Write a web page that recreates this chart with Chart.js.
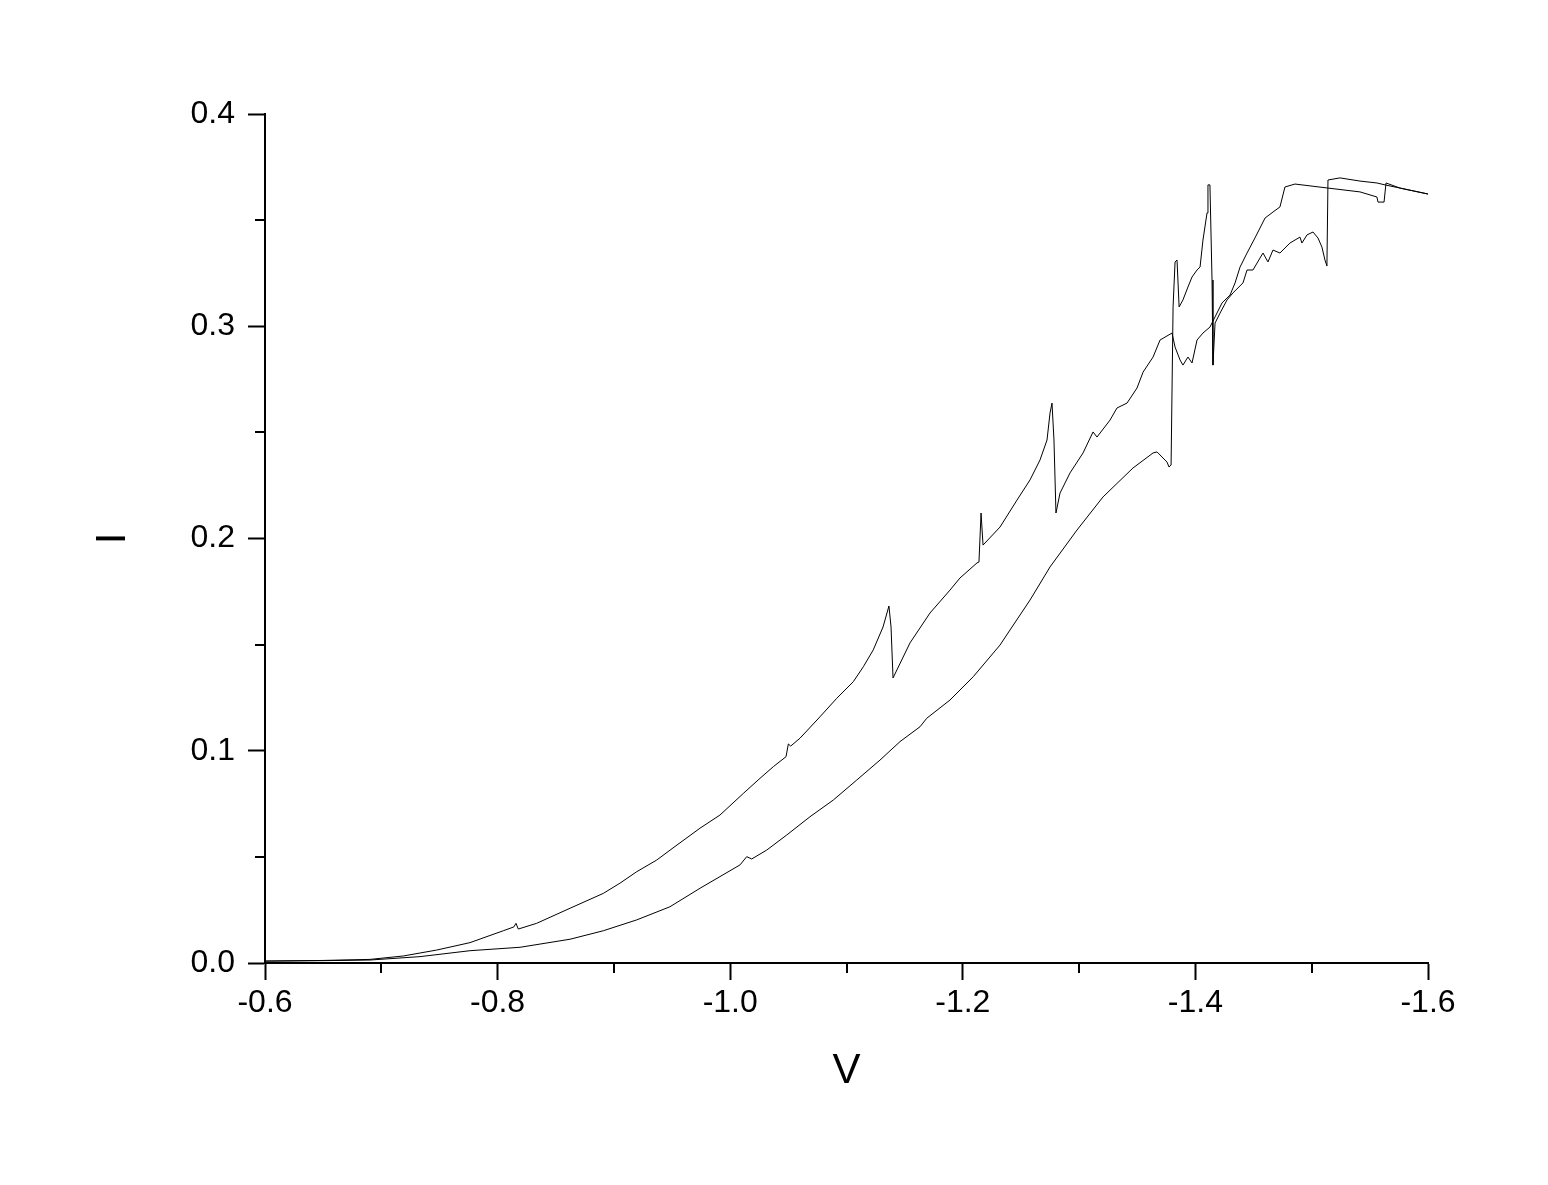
<!DOCTYPE html>
<html>
<head>
<meta charset="utf-8">
<script src="https://cdn.jsdelivr.net/npm/chart.js@4/dist/chart.umd.min.js"></script>
<style>
  html, body { margin: 0; padding: 0; background: #fff; }
  #wrap { width: 1548px; height: 1185px; }
</style>
</head>
<body>
<div id="wrap"><canvas id="c" width="1548" height="1185"></canvas></div>
<script>
// Curve A (upper branch in the middle region)
const vA = [-0.600,-0.650,-0.6903,-0.7189,-0.7476,-0.7763,-0.8049,-0.8140,-0.8158,-0.8178,-0.8336,-0.8623,-0.8909,-0.9052,-0.9196,-0.9368,-0.9508,-0.9740,-0.9912,-1.0113,-1.0256,-1.0371,-1.0480,-1.0500,-1.0520,-1.0600,-1.0772,-1.0916,-1.1058,-1.1145,-1.1230,-1.1314,-1.1365,-1.1383,-1.1400,-1.1546,-1.1718,-1.1890,-1.1976,-1.2122,-1.2139,-1.2157,-1.2174,-1.2320,-1.2466,-1.2578,-1.2664,-1.2724,-1.2750,-1.2767,-1.2784,-1.2801,-1.2836,-1.2922,-1.3034,-1.3120,-1.3154,-1.3266,-1.3326,-1.3412,-1.3498,-1.3550,-1.3636,-1.3696,-1.3799,-1.3825,-1.3868,-1.3893,-1.3936,-1.3971,-1.4014,-1.4065,-1.4125,-1.4169,-1.4229,-1.4298,-1.4341,-1.4384,-1.4444,-1.4512,-1.4599,-1.4667,-1.4727,-1.4770,-1.4856,-1.5140,-1.5415,-1.5561,-1.5570,-1.5622,-1.5639,-1.5759,-1.6000];
const iA = [0.0009,0.0012,0.0017,0.0033,0.0061,0.0096,0.0152,0.0170,0.0187,0.0160,0.0187,0.0258,0.0328,0.0376,0.0430,0.0485,0.0542,0.0635,0.0697,0.0799,0.0870,0.0925,0.0972,0.1032,0.1022,0.1059,0.1160,0.1247,0.1325,0.1396,0.1475,0.1583,0.1682,0.1583,0.1343,0.1508,0.1649,0.1757,0.1814,0.1885,0.1889,0.2120,0.1969,0.2054,0.2181,0.2276,0.2370,0.2464,0.2591,0.2638,0.2464,0.2120,0.2214,0.2309,0.2403,0.2502,0.2478,0.2558,0.2615,0.2638,0.2709,0.2784,0.2855,0.2935,0.2968,0.2902,0.2841,0.2817,0.2855,0.2827,0.2935,0.2968,0.2996,0.3044,0.3110,0.3147,0.3204,0.3279,0.3345,0.3416,0.3510,0.3538,0.3562,0.3656,0.3670,0.3651,0.3633,0.3609,0.3585,0.3585,0.3675,0.3651,0.3623];

// Curve B (lower branch in the middle region)
const vB = [-0.600,-0.650,-0.6903,-0.7333,-0.7763,-0.8193,-0.8623,-0.8909,-0.9196,-0.9482,-0.9740,-0.9912,-1.0084,-1.0142,-1.0185,-1.0314,-1.0486,-1.0686,-1.0887,-1.1088,-1.1288,-1.1460,-1.1632,-1.1690,-1.1890,-1.2090,-1.2320,-1.2406,-1.2578,-1.2750,-1.2982,-1.3206,-1.3463,-1.3636,-1.3670,-1.3756,-1.3773,-1.3791,-1.3808,-1.3825,-1.3842,-1.3860,-1.3893,-1.3936,-1.3971,-1.4014,-1.4040,-1.4065,-1.4100,-1.4108,-1.4125,-1.4143,-1.4151,-1.4169,-1.4212,-1.4272,-1.4323,-1.4409,-1.4444,-1.4495,-1.4581,-1.4624,-1.4667,-1.4727,-1.4813,-1.4899,-1.4916,-1.4959,-1.5011,-1.5054,-1.5088,-1.5114,-1.5131,-1.5140,-1.5243,-1.5415,-1.5561,-1.5630,-1.5759,-1.6000];
const iB = [0.0009,0.0011,0.0014,0.0030,0.0058,0.0074,0.0112,0.0152,0.0203,0.0265,0.0352,0.0407,0.0462,0.0501,0.0490,0.0532,0.0603,0.0689,0.0768,0.0862,0.0956,0.1043,0.1113,0.1153,0.1239,0.1349,0.1498,0.1569,0.1710,0.1866,0.2040,0.2196,0.2332,0.2403,0.2408,0.2360,0.2337,0.2346,0.3091,0.3303,0.3312,0.3091,0.3124,0.3185,0.3232,0.3265,0.3279,0.3406,0.3534,0.3666,0.3666,0.3218,0.2817,0.3015,0.3062,0.3124,0.3157,0.3204,0.3265,0.3265,0.3345,0.3303,0.3359,0.3345,0.3392,0.3420,0.3392,0.3430,0.3444,0.3416,0.3373,0.3312,0.3284,0.3689,0.3699,0.3684,0.3675,0.3666,0.3651,0.3623];

// Axis ticks
const xTicks = [-0.6, -0.8, -1.0, -1.2, -1.4, -1.6];
const xTickLabels = ['-0.6', '-0.8', '-1.0', '-1.2', '-1.4', '-1.6'];
const xMinor = [-0.7, -0.9, -1.1, -1.3, -1.5];
const yTicks = [0.0, 0.1, 0.2, 0.3, 0.4];
const yTickLabels = ['0.0', '0.1', '0.2', '0.3', '0.4'];
const yMinor = [0.05, 0.15, 0.25, 0.35];

const toPts = (xs, ys) => xs.map((x, i) => ({ x: x, y: ys[i] }));

const minorTicks = {
  id: 'minorTicks',
  afterDraw(chart) {
    const { ctx, chartArea, scales } = chart;
    ctx.save();
    ctx.strokeStyle = '#000';
    ctx.lineWidth = 2;
    ctx.beginPath();
    xMinor.forEach(v => {
      const px = Math.round(scales.x.getPixelForValue(v));
      ctx.moveTo(px, chartArea.bottom);
      ctx.lineTo(px, chartArea.bottom + 10);
    });
    yMinor.forEach(v => {
      const py = Math.round(scales.y.getPixelForValue(v));
      ctx.moveTo(chartArea.left, py);
      ctx.lineTo(chartArea.left - 10, py);
    });
    ctx.stroke();
    ctx.restore();
  }
};

const FONT = '"Liberation Sans", Arial, sans-serif';

new Chart(document.getElementById('c'), {
  type: 'scatter',
  data: {
    datasets: [
      { data: toPts(vA, iA), showLine: true, borderColor: '#000', borderWidth: 1, pointRadius: 0, tension: 0, fill: false },
      { data: toPts(vB, iB), showLine: true, borderColor: '#000', borderWidth: 1, pointRadius: 0, tension: 0, fill: false }
    ]
  },
  options: {
    responsive: false,
    animation: false,
    devicePixelRatio: 1,
    layout: { padding: { top: 114, right: 120, left: 0, bottom: 0 } },
    plugins: { legend: { display: false }, tooltip: { enabled: false } },
    scales: {
      x: {
        type: 'linear',
        min: -1.6, max: -0.6,
        reverse: true,
        afterBuildTicks: s => { s.ticks = xTicks.map(v => ({ value: v })); },
        afterFit: s => { s.height = 222; },
        ticks: {
          autoSkip: false, maxRotation: 0, padding: 4, color: '#000',
          font: { family: FONT, size: 32 },
          callback: (v) => { const k = xTicks.findIndex(t => Math.abs(t - v) < 1e-6); return k >= 0 ? xTickLabels[k] : ''; }
        },
        grid: { drawOnChartArea: false, drawTicks: true, tickLength: 17, tickWidth: 2, tickColor: '#000' },
        border: { display: true, color: '#000', width: 2 },
        title: { display: true, text: 'V', color: '#000', font: { family: FONT, size: 42 }, padding: { top: 0, bottom: 88 } }
      },
      y: {
        type: 'linear',
        min: 0, max: 0.4,
        afterBuildTicks: s => { s.ticks = yTicks.map(v => ({ value: v })); },
        afterFit: s => { s.width = 265; },
        ticks: {
          autoSkip: false, padding: 13, color: '#000',
          font: { family: FONT, size: 32 },
          callback: (v) => { const k = yTicks.findIndex(t => Math.abs(t - v) < 1e-6); return k >= 0 ? yTickLabels[k] : ''; }
        },
        grid: { drawOnChartArea: false, drawTicks: true, tickLength: 17, tickWidth: 2, tickColor: '#000' },
        border: { display: true, color: '#000', width: 2 },
        title: { display: true, text: 'I', color: '#000', font: { family: FONT, size: 42 }, padding: { top: 88, bottom: 0 } }
      }
    }
  },
  plugins: [minorTicks]
});
</script>
</body>
</html>
